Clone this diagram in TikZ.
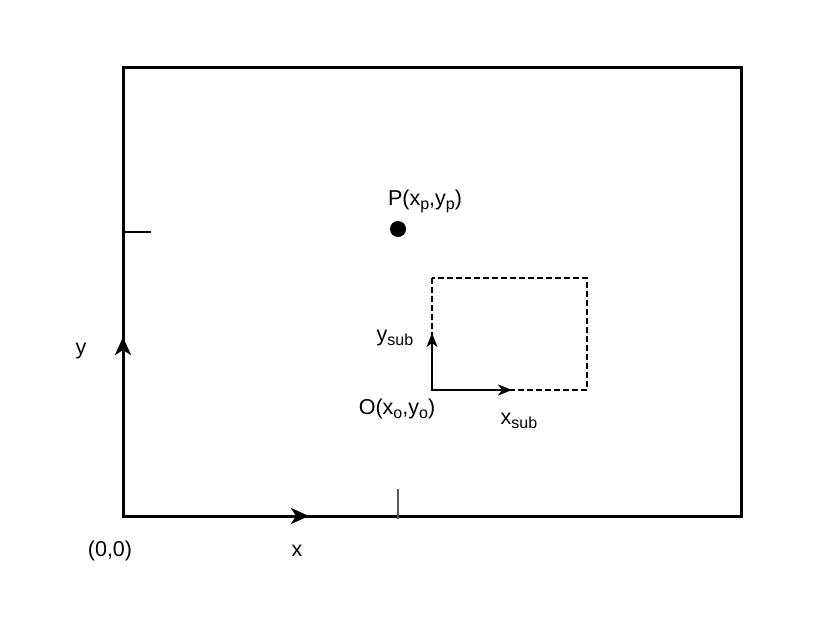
\documentclass[tikz,border=0pt]{standalone}
\usepackage{fontspec}
\setmainfont{Liberation Sans}
\usetikzlibrary{arrows.meta}
\newcommand{\lowsub}[1]{\raisebox{-0.35ex}{\fontsize{16}{16}\selectfont #1}}
\begin{document}
\begin{tikzpicture}[x=1pt,y=-1pt,
  lbl/.style={inner sep=0pt,font=\fontsize{21.5}{24}\selectfont},
  axisarrow/.style={line width=3pt,-{Stealth[length=18pt,width=16pt,inset=5pt]}},
  subarrow/.style={line width=1.8pt,-{Stealth[length=14pt,width=11pt,inset=4pt]}}]
\useasboundingbox (0,0) rectangle (813,621);
\coordinate (o) at (123,516);
\coordinate (xe) at (309,516);
\coordinate (ye) at (123,337);
\draw[line width=3pt] (123,67) rectangle (741,516);
\draw[axisarrow] (o) -- (xe);
\draw[axisarrow] (o) -- (ye);
\coordinate (t1a) at (123,232);
\coordinate (t1b) at (151,232);
\draw[line width=1.2pt] (t1a) -- (t1b);
\coordinate (t2a) at (398,489);
\coordinate (t2b) at (398,519);
\draw[line width=1.2pt,gray!70!black] (t2a) -- (t2b);
\fill (398,229) circle (8);
\node[lbl] (plab) at (425,201) {P(x\lowsub{p},y\lowsub{p})};
\draw[line width=1.5pt,dash pattern=on 6pt off 3pt] (432,278) rectangle (587,390);
\coordinate (so) at (432,390);
\coordinate (sx) at (512,390);
\coordinate (sy) at (432,333);
\draw[subarrow] (so) -- (sx);
\draw[subarrow] (so) -- (sy);
\node[lbl] (ysub) at (395,338) {y\lowsub{sub}};
\node[lbl] (olab) at (397,409) {O(x\lowsub{o},y\lowsub{o})};
\node[lbl] (xsub) at (519,421) {x\lowsub{sub}};
\node[lbl] (ylab) at (81,351) {y};
\node[lbl] (orig) at (110,551) {(0,0)};
\node[lbl] (xlab) at (297,551) {x};
\end{tikzpicture}
\end{document}
